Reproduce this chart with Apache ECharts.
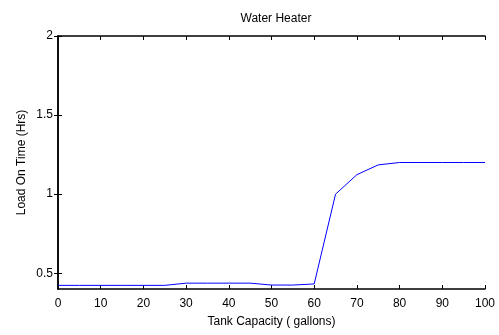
<!DOCTYPE html>
<html>
<head>
<meta charset="utf-8">
<script src="https://cdn.jsdelivr.net/npm/echarts@6/dist/echarts.min.js"></script>
<style>
  html, body { margin: 0; padding: 0; background: #fff; }
  #chart { width: 499px; height: 335px; }
</style>
</head>
<body>
<div id="chart"></div>
<script>
// tank capacity (gallons) and load-on time (hrs)
const capacity = [0, 5, 10, 15, 20, 25, 30, 35, 40, 45, 50, 55, 60, 65, 70, 75, 80, 85, 90, 95, 100];
const loadOnTime = [0.423, 0.423, 0.423, 0.423, 0.423, 0.423, 0.437, 0.437, 0.437, 0.437, 0.425, 0.425, 0.432, 1.0, 1.123, 1.185, 1.2, 1.2, 1.2, 1.2, 1.2];
const yTicks = [0.5, 1, 1.5, 2];

const font = 'Arial, "Liberation Sans", sans-serif';
const chart = echarts.init(document.getElementById('chart'));

// MATLAB style box: ticks point inward on all four sides
const tickIn = { show: true, inside: true, length: 4, lineStyle: { color: '#000', width: 1 } };
const axisLine = { show: true, lineStyle: { color: '#000', width: 1.5 } };

chart.setOption({
  animation: false,
  backgroundColor: '#fff',
  title: {
    text: 'Water Heater',
    left: 271,
    top: 8,
    textAlign: 'center',
    textStyle: { fontFamily: font, fontSize: 12, fontWeight: 'normal', color: '#000' }
  },
  grid: { left: 58, right: 14, top: 36, bottom: 46, containLabel: false },
  xAxis: [
    {
      type: 'value',
      min: 0,
      max: 100,
      interval: 10,
      position: 'bottom',
      name: 'Tank Capacity ( gallons)',
      nameLocation: 'middle',
      nameGap: 27,
      nameMoveOverlap: false,
      nameTextStyle: { fontFamily: font, fontSize: 12, color: '#000' },
      axisLine: axisLine,
      axisTick: tickIn,
      axisLabel: { fontFamily: font, fontSize: 12, color: '#000', margin: 9 },
      splitLine: { show: false }
    },
    {
      type: 'value',
      min: 0,
      max: 100,
      interval: 10,
      position: 'top',
      axisLine: axisLine,
      axisTick: tickIn,
      axisLabel: { show: false },
      splitLine: { show: false }
    }
  ],
  yAxis: [
    {
      type: 'value',
      min: 0.4,
      max: 2,
      position: 'left',
      name: 'Load On Time (Hrs)',
      nameLocation: 'middle',
      nameGap: 30,
      nameMoveOverlap: false,
      nameTextStyle: { fontFamily: font, fontSize: 12, color: '#000' },
      axisLine: axisLine,
      axisTick: Object.assign({ customValues: yTicks }, tickIn),
      axisLabel: { customValues: yTicks, fontFamily: font, fontSize: 12, color: '#000', margin: 5 },
      splitLine: { show: false }
    },
    {
      type: 'value',
      min: 0.4,
      max: 2,
      position: 'right',
      axisLine: axisLine,
      axisTick: Object.assign({ customValues: yTicks }, tickIn),
      axisLabel: { show: false },
      splitLine: { show: false }
    }
  ],
  series: [
    {
      type: 'line',
      data: capacity.map((c, i) => [c, loadOnTime[i]]),
      symbol: 'none',
      lineStyle: { color: '#0000ff', width: 1 },
      silent: true
    }
  ]
});
</script>
</body>
</html>
